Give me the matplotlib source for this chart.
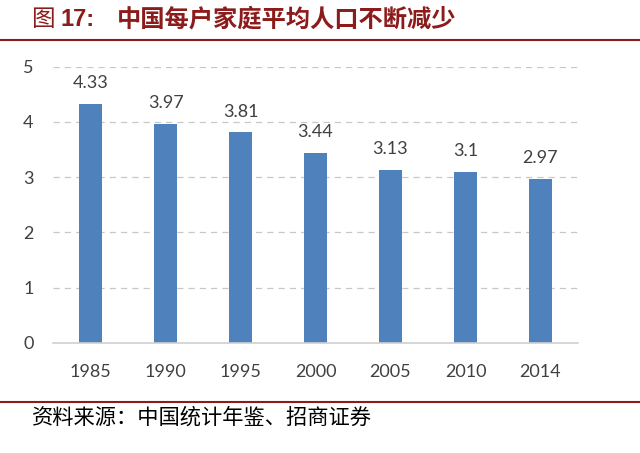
import matplotlib.pyplot as plt
from matplotlib.lines import Line2D

plt.rcParams['font.family'] = ['Lato', 'Noto Sans CJK SC', 'DejaVu Sans']

# 数据
years = ['1985', '1990', '1995', '2000', '2005', '2010', '2014']
household_size = [4.33, 3.97, 3.81, 3.44, 3.13, 3.1, 2.97]
value_labels = ['4.33', '3.97', '3.81', '3.44', '3.13', '3.1', '2.97']

dark_red = '#8C1B1B'
bar_blue = '#4F81BD'
text_gray = '#404040'
cjk = ['Noto Sans CJK SC', 'DejaVu Sans']

fig = plt.figure(figsize=(6.4, 4.53), dpi=100)
ax = fig.add_axes([0.083, 0.243, 0.82, 0.61])

x = range(len(years))
ax.bar(x, household_size, width=0.3, color=bar_blue, zorder=3)

for i, (v, lab) in enumerate(zip(household_size, value_labels)):
    ax.annotate(lab, xy=(i, v), xytext=(0, 9), textcoords='offset points',
                ha='center', va='bottom', fontsize=13, color=text_gray)

ax.set_xlim(-0.5, len(years) - 0.5)
ax.set_ylim(0, 5)
ax.set_yticks(range(6))
ax.set_xticks(list(x))
ax.set_xticklabels(years)
ax.tick_params(axis='both', length=0, labelsize=13, labelcolor=text_gray)
ax.tick_params(axis='x', pad=15)
ax.tick_params(axis='y', pad=14)
ax.grid(axis='y', color='#C8C8C8', linestyle=(0, (5, 4)), linewidth=0.9, zorder=0)
for side in ['top', 'right', 'left']:
    ax.spines[side].set_visible(False)
ax.spines['bottom'].set_color('#D0D0D0')
ax.spines['bottom'].set_linewidth(1.2)
ax.spines['bottom'].set_zorder(4)

# 标题和来源
fig.text(0.05, 0.956, '图', fontsize=17, color=dark_red, ha='left', va='center', family=cjk)
fig.text(0.095, 0.956, '17:', fontsize=17, fontweight='bold',
         color=dark_red, ha='left', va='center', family=['Liberation Sans', 'DejaVu Sans'])
fig.text(0.182, 0.956, '中国每户家庭平均人口不断减少', fontsize=17.5, fontweight='bold',
         color=dark_red, ha='left', va='center', family=cjk)
fig.add_artist(Line2D([0, 1], [0.912, 0.912], transform=fig.transFigure, color=dark_red, linewidth=1.5))
fig.add_artist(Line2D([0, 1], [0.113, 0.113], transform=fig.transFigure, color=dark_red, linewidth=1.5))
fig.text(0.05, 0.079, '资料来源：中国统计年鉴、招商证券', fontsize=15.3, color='black',
         ha='left', va='center', family=cjk)

fig.savefig('out.png', dpi=100)
